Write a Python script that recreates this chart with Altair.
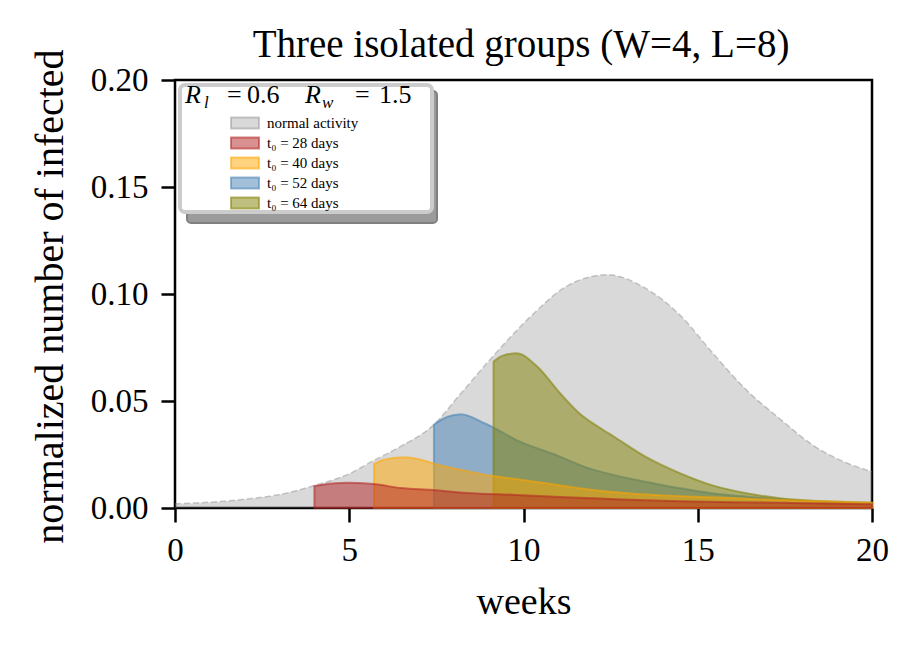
import altair as alt
import pandas as pd

# ---- data (weeks, normalized number of infected) ----
series_names = ["normal activity", "t₀ = 28 days", "t₀ = 40 days", "t₀ = 52 days", "t₀ = 64 days"]

normal_x = [0, 1, 2, 3, 4, 5, 5.7, 6.5, 7.4, 8.2, 9.1, 10.3, 11.2, 12.4, 13.5, 14.5, 15.4, 16.4, 17.4, 18.3, 19.3, 20]
normal_y = [0.0020, 0.0027, 0.0041, 0.0063, 0.0105, 0.0160, 0.0222, 0.0290, 0.0385, 0.0535, 0.0705, 0.0910,
            0.1033, 0.1090, 0.1027, 0.0900, 0.0730, 0.0551, 0.0411, 0.0294, 0.0209, 0.0170]

t28_x = [4.0, 4.5, 4.93, 5.7, 6.5, 7.4, 8.4, 9.8, 11.2, 12.2, 13.5, 14.5, 16.0, 17.5, 20]
t28_y = [0.0103, 0.0115, 0.0118, 0.0112, 0.0093, 0.0084, 0.0070, 0.0061, 0.0050, 0.0044, 0.0036, 0.0031,
         0.0027, 0.0024, 0.0018]

t40_x = [5.71, 6.0, 6.6, 7.0, 7.6, 8.3, 8.9, 9.8, 10.8, 11.6, 12.8, 14.0, 15.4, 17.4, 20]
t40_y = [0.0206, 0.0226, 0.0237, 0.0228, 0.0200, 0.0175, 0.0155, 0.0135, 0.0112, 0.0092, 0.0071, 0.0059,
         0.0050, 0.0037, 0.0025]

t52_x = [7.43, 7.8, 8.2, 8.9, 9.9, 10.9, 11.8, 12.7, 13.5, 14.5, 15.4, 16.4, 17.4, 18.3, 20]
t52_y = [0.0390, 0.0425, 0.0438, 0.0395, 0.0310, 0.0250, 0.0190, 0.0150, 0.0123, 0.0092, 0.0069, 0.0053,
         0.0040, 0.0031, 0.0023]

t64_x = [9.14, 9.4, 9.8, 10.4, 11.05, 11.6, 12.2, 12.6, 13.5, 14.5, 15.4, 16.4, 17.4, 18.3, 20]
t64_y = [0.0684, 0.0712, 0.0723, 0.0660, 0.0536, 0.0443, 0.0374, 0.0333, 0.0240, 0.0162, 0.0107, 0.0069,
         0.0045, 0.0034, 0.0025]

x_ticks = [0, 5, 10, 15, 20]
y_ticks = [0.0, 0.05, 0.10, 0.15, 0.20]

fill_colors = ["rgba(128,128,128,0.3)", "rgba(178,34,34,0.5)", "rgba(255,165,0,0.5)",
               "rgba(70,130,180,0.5)", "rgba(128,128,0,0.5)"]
stroke_colors = ["rgba(128,128,128,0.4)", "rgba(178,34,34,0.55)", "rgba(255,165,0,0.55)",
                 "rgba(70,130,180,0.55)", "rgba(128,128,0,0.55)"]

frames = []
for name, xs, ys in zip(series_names,
                        [normal_x, t28_x, t40_x, t52_x, t64_x],
                        [normal_y, t28_y, t40_y, t52_y, t64_y]):
    frames.append(pd.DataFrame({"series": name, "week": xs, "infected": ys}))
df = pd.concat(frames, ignore_index=True)

FONT = "Liberation Serif"

legend = alt.Legend(
    orient="none", legendX=62, legendY=35, padding=0,
    symbolType="M-2,-0.8H2V0.8H-2Z", symbolSize=196, symbolStrokeWidth=2,
    labelFont=FONT, labelFontSize=15, labelColor="black", labelOffset=14,
    rowPadding=0, fillColor="transparent", strokeColor="transparent",
)

x_enc = alt.X("week:Q", title="weeks",
              scale=alt.Scale(domain=[0, 20], nice=False, zero=False),
              axis=alt.Axis(values=x_ticks, format="d", labelPadding=12, labelFlush=False,
                            titleY=105, titleBaseline="alphabetic"))
y_enc = alt.Y("infected:Q", title="normalized number of infected",
              scale=alt.Scale(domain=[0, 0.2], nice=False),
              axis=alt.Axis(values=y_ticks, format=".2f", labelPadding=13, labelFlush=False,
                            titleX=-113, titleY=216, titleAngle=270,
                            titleAlign="center", titleBaseline="alphabetic", titleFontSize=40))

fill_scale = alt.Scale(domain=series_names, range=fill_colors)
stroke_scale = alt.Scale(domain=series_names, range=stroke_colors)


def fill_enc():
    return alt.Fill("series:N", title=None, legend=legend, scale=fill_scale)


def stroke_enc():
    return alt.Stroke("series:N", title=None, legend=legend, scale=stroke_scale)


def subset(name):
    return alt.Chart(df).transform_filter(alt.datum.series == name)


def area_layer(name):
    return subset(name).mark_area(interpolate="monotone", strokeWidth=2).encode(
        x=x_enc, y=y_enc, fill=fill_enc(), stroke=stroke_enc())


# normal activity: filled area without outline, plus a dashed top edge
normal_area = subset(series_names[0]).mark_area(interpolate="monotone").encode(
    x=x_enc, y=y_enc, fill=fill_enc())
normal_edge = subset(series_names[0]).mark_line(
    interpolate="monotone", strokeWidth=1.5, strokeDash=[6, 3]).encode(
    x=x_enc, y=y_enc, stroke=stroke_enc())

areas = [
    normal_area, normal_edge,
    area_layer(series_names[3]),
    area_layer(series_names[4]),
    area_layer(series_names[2]),
    area_layer(series_names[1]),
]

one = pd.DataFrame({"k": [0]})
shadow = alt.Chart(one).mark_rect(fill="#9b9b9b", stroke="#808080", strokeWidth=2, cornerRadius=4).encode(
    x=alt.value(12), x2=alt.value(262), y=alt.value(11), y2=alt.value(143))
box = alt.Chart(one).mark_rect(fill="white", stroke="#cccccc", strokeWidth=4, cornerRadius=5).encode(
    x=alt.value(5), x2=alt.value(257), y=alt.value(5), y2=alt.value(132))


def txt(s, x, y, size, italic=False, align="left"):
    return alt.Chart(one).mark_text(
        text=s, align=align, baseline="alphabetic", font=FONT, fontSize=size,
        fontStyle="italic" if italic else "normal", color="black"
    ).encode(x=alt.value(x), y=alt.value(y))


title_parts = [
    txt("R", 10, 23, 26, True), txt("l", 29, 28, 17, True),
    txt("=", 52, 23, 26), txt("0.6", 72, 23, 26),
    txt("R", 130, 23, 26, True), txt("w", 147, 28, 17, True),
    txt("=", 180, 23, 26), txt("1.5", 204, 23, 26),
]
chart_title = txt("Three isolated groups (W=4, L=8)", 346, -23, 39, align="center")

chart = alt.layer(*areas, shadow, box, *title_parts, chart_title).properties(
    width=697, height=428,
    background="white",
    padding={"left": 167, "top": 72, "right": 30, "bottom": 120},
    autosize=alt.AutoSizeParams(type="none"),
).configure_view(
    stroke="black", strokeWidth=2.5
).configure_axis(
    domain=False, grid=False, ticks=True, tickColor="black", tickWidth=2.5, tickSize=14,
    labelFont=FONT, labelFontSize=33, labelColor="black",
    titleFont=FONT, titleFontSize=38, titleFontWeight="normal", titleColor="black",
)

chart.save("out.html", embed_options={"renderer": "svg", "actions": False})
